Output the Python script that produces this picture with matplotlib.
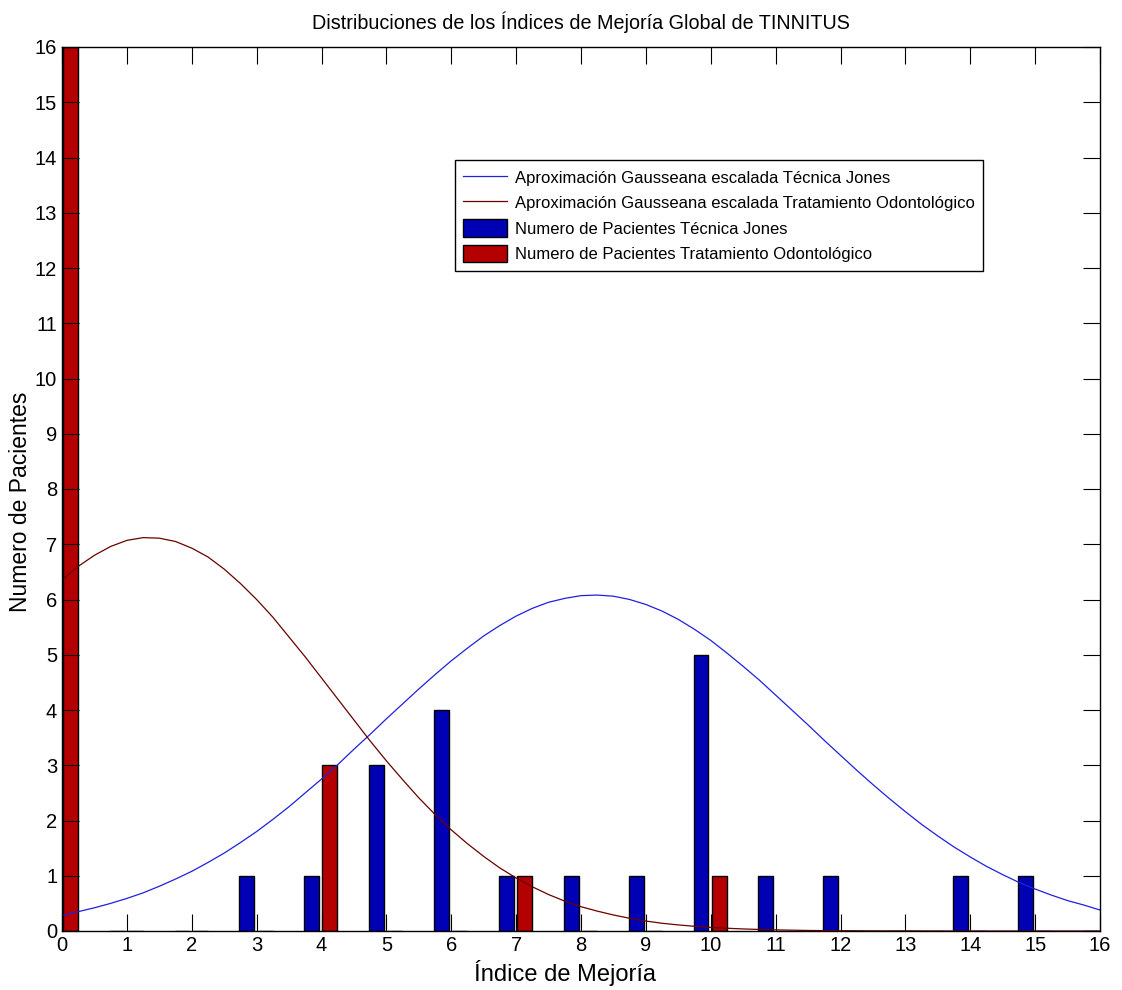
import numpy as np
import matplotlib.pyplot as plt

plt.rcParams['font.family'] = ['Liberation Sans', 'DejaVu Sans']

# indices de mejoria
indices = np.arange(0, 17)

# numero de pacientes por indice
pac_jones = [0, 0, 0, 1, 1, 3, 4, 1, 1, 1, 5, 1, 1, 0, 1, 1, 0]
pac_odonto = [16, 0, 0, 0, 3, 0, 0, 1, 0, 0, 1, 0, 0, 0, 0, 0, 0]

x_curva = np.arange(0, 16.25, 0.25)
curva_jones = [0.28, 0.35, 0.42, 0.50, 0.59, 0.69, 0.81, 0.94, 1.08, 1.24,
               1.41, 1.60, 1.80, 2.02, 2.25, 2.50, 2.75, 3.01, 3.29, 3.56,
               3.84, 4.11, 4.38, 4.64, 4.89, 5.12, 5.34, 5.53, 5.70, 5.84,
               5.95, 6.02, 6.07, 6.08, 6.06, 6.00, 5.91, 5.79, 5.64, 5.46,
               5.26, 5.03, 4.79, 4.54, 4.27, 4.00, 3.73, 3.45, 3.18, 2.91,
               2.65, 2.40, 2.16, 1.93, 1.72, 1.52, 1.34, 1.17, 1.02, 0.88,
               0.76, 0.65, 0.55, 0.47, 0.38]
curva_odonto = [6.35, 6.60, 6.80, 6.96, 7.07, 7.12, 7.11, 7.05, 6.93, 6.77,
                6.55, 6.29, 6.00, 5.68, 5.32, 4.96, 4.58, 4.20, 3.82, 3.44,
                3.08, 2.74, 2.41, 2.11, 1.83, 1.58, 1.35, 1.14, 0.96, 0.80,
                0.66, 0.54, 0.44, 0.36, 0.29, 0.23, 0.18, 0.14, 0.11, 0.085,
                0.065, 0.05, 0.037, 0.028, 0.02, 0.015, 0.01, 0.007, 0.005,
                0.004, 0.003, 0.002, 0.002, 0.001, 0.001, 0.0, 0.0, 0.0, 0.0,
                0.0, 0.0, 0.0, 0.0, 0.0, 0.0]

azul = '#0000b4'
rojo = '#b40000'

fig = plt.figure(figsize=(11.22, 9.9), dpi=100)
ax = fig.add_axes([62 / 1122, 1 - 931 / 990, 1038 / 1122, 884 / 990])

ancho = 0.23
ax.plot(x_curva, curva_jones, color='#2020e0', lw=0.9,
        label='Aproximación Gausseana escalada Técnica Jones')
ax.plot(x_curva, curva_odonto, color='#6a0000', lw=0.9,
        label='Aproximación Gausseana escalada Tratamiento Odontológico')
ax.bar(indices - 0.15, pac_jones, width=ancho, color=azul, edgecolor='black',
       lw=1.0, label='Numero de Pacientes Técnica Jones')
ax.bar(indices + 0.13, pac_odonto, width=ancho, color=rojo, edgecolor='black',
       lw=1.0, label='Numero de Pacientes Tratamiento Odontológico')

ax.set_xlim(0, 16)
ax.set_ylim(0, 16)
ax.set_xticks(range(0, 17))
ax.set_yticks(range(0, 17))
ax.tick_params(direction='in', length=12, top=True, right=True, labelsize=14.5,
               width=0.8)
for s in ax.spines.values():
    s.set_linewidth(1.0)

ax.set_title('Distribuciones de los Índices de Mejoría Global de TINNITUS',
             fontsize=14.2, pad=13)
ax.set_xlabel('Índice de Mejoría', fontsize=17)
ax.set_ylabel('Numero de Pacientes', fontsize=16.5)
ax.xaxis.set_label_coords(0.4846, -0.033)
ax.yaxis.set_label_coords(-0.029, 0.486)

leg = ax.legend(loc='upper left', bbox_to_anchor=(393 / 1038, (931 - 160) / 884),
                fontsize=12.0, frameon=True, fancybox=False, framealpha=1,
                edgecolor='black', handlelength=2.6, handleheight=1.25,
                borderpad=0.5, labelspacing=0.47, handletextpad=0.5,
                borderaxespad=0)
leg.get_frame().set_linewidth(1.0)

fig.savefig('out.png', dpi=100)
